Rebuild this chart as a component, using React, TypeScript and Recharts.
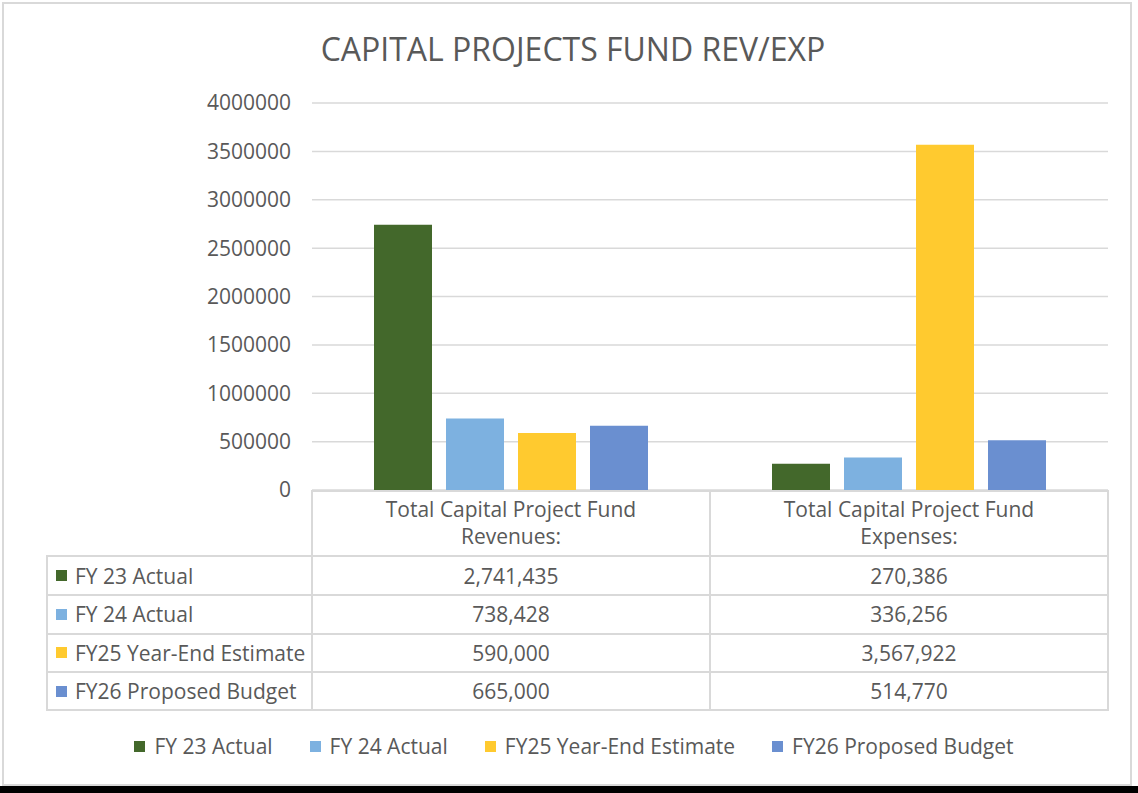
import { BarChart, Bar, XAxis, YAxis, CartesianGrid, Legend } from 'recharts'

const categories = ['Total Capital Project Fund Revenues:', 'Total Capital Project Fund Expenses:']
const seriesNames = ['FY 23 Actual', 'FY 24 Actual', 'FY25 Year-End Estimate', 'FY26 Proposed Budget']
const fy23Actual = [2741435, 270386]
const fy24Actual = [738428, 336256]
const fy25Estimate = [590000, 3567922]
const fy26Proposed = [665000, 514770]
const yTicks = [0, 500000, 1000000, 1500000, 2000000, 2500000, 3000000, 3500000, 4000000]

const colors = ['#43682b', '#7db1e0', '#ffca2f', '#6a8fd0']
const keys = ['fy23', 'fy24', 'fy25', 'fy26']
const seriesValues = [fy23Actual, fy24Actual, fy25Estimate, fy26Proposed]

const data = categories.map((name, i) => ({
  name,
  fy23: fy23Actual[i],
  fy24: fy24Actual[i],
  fy25: fy25Estimate[i],
  fy26: fy26Proposed[i],
}))

const TEXT = '#595959'
const LINE = '#d9d9d9'
const FONT = '"Open Sans", sans-serif'

// table geometry (Excel-style data table under the plot)
const tableLeft = 47
const colEdges = [312, 710, 1108]
const headerTop = 491
const rowEdges = [556, 595, 633.5, 672, 710]

function HeaderTick({ x, y, payload }: any) {
  const label: string = payload.value
  const cut = label.lastIndexOf(' ')
  return (
    <text x={x} y={y} textAnchor="middle" fill={TEXT} fontSize={21} fontFamily={FONT}>
      <tspan x={x} dy={27}>{label.slice(0, cut)}</tspan>
      <tspan x={x} dy={27}>{label.slice(cut + 1)}</tspan>
    </text>
  )
}

function LegendContent() {
  return (
    <div style={{ display: 'flex', justifyContent: 'center', gap: 37, paddingLeft: 10, fontFamily: FONT, fontSize: 21, color: TEXT }}>
      {seriesNames.map((n, i) => (
        <div key={n} style={{ display: 'flex', alignItems: 'center' }}>
          <span style={{ width: 11, height: 11, background: colors[i], marginRight: 9, display: 'inline-block' }} />
          <span>{n}</span>
        </div>
      ))}
    </div>
  )
}

function hLine(x1: number, x2: number, y: number, key: string) {
  return <div key={key} style={{ position: 'absolute', left: x1 - 1, top: y - 1, width: x2 - x1 + 2, height: 2, background: LINE }} />
}
function vLine(x: number, y1: number, y2: number, key: string) {
  return <div key={key} style={{ position: 'absolute', left: x - 1, top: y1 - 1, width: 2, height: y2 - y1 + 2, background: LINE }} />
}

function fmt(v: number) {
  return v.toLocaleString('en-US')
}

function DataTable() {
  const lines = [
    hLine(colEdges[0], colEdges[2], headerTop, 'h-top'),
    ...rowEdges.map((y, i) => hLine(tableLeft, colEdges[2], y, 'h' + i)),
    vLine(tableLeft, rowEdges[0], rowEdges[rowEdges.length - 1], 'v-left'),
    ...colEdges.map((x, i) => vLine(x, headerTop, rowEdges[rowEdges.length - 1], 'v' + i)),
  ]
  const cells = seriesNames.map((n, r) => {
    const top = rowEdges[r]
    const h = rowEdges[r + 1] - rowEdges[r]
    return (
      <div key={n}>
        <div style={{ position: 'absolute', left: tableLeft + 9, top, height: h, display: 'flex', alignItems: 'center' }}>
          <span style={{ width: 11, height: 11, background: colors[r], marginRight: 8, display: 'inline-block' }} />
          <span>{n}</span>
        </div>
        {seriesValues[r].map((v, c) => (
          <div key={c} style={{ position: 'absolute', left: colEdges[c], width: colEdges[c + 1] - colEdges[c], top, height: h, display: 'flex', alignItems: 'center', justifyContent: 'center' }}>
            {fmt(v)}
          </div>
        ))}
      </div>
    )
  })
  return (
    <div style={{ position: 'absolute', left: 0, top: 0, width: 1138, height: 793, pointerEvents: 'none', fontFamily: FONT, fontSize: 21, color: TEXT }}>
      {lines}
      {cells}
    </div>
  )
}

export default function App() {
  return (
    <div style={{ position: 'absolute', left: 0, top: 0, width: 1138, height: 793, background: '#fff', overflow: 'hidden' }}>
      <div style={{ position: 'absolute', left: 2, top: 2, width: 1126, height: 780, border: `2px solid ${LINE}` }} />
      <div style={{ position: 'absolute', left: 0, top: 786, width: 1138, height: 7, background: '#000' }} />
      <div style={{ position: 'absolute', left: 4, top: 27, width: 1138, textAlign: 'center', fontFamily: FONT, fontSize: 32, color: TEXT }}>
        CAPITAL PROJECTS FUND REV/EXP
      </div>
      <div style={{ position: 'absolute', left: 0, top: 0 }}>
        <BarChart
          width={1138}
          height={793}
          data={data}
          margin={{ top: 103, right: 30, bottom: 237, left: 212 }}
          barCategoryGap={62}
          barGap={14}
        >
          <CartesianGrid vertical={false} stroke={LINE} strokeWidth={1.5} />
          <XAxis
            dataKey="name"
            height={66}
            tickLine={false}
            axisLine={false}
            tickSize={0}
            tickMargin={0}
            tick={<HeaderTick />}
            interval={0}
          />
          <YAxis
            width={100}
            domain={[0, 4000000]}
            ticks={yTicks}
            tickLine={false}
            axisLine={false}
            tickSize={0}
            tickMargin={21}
            tick={{ fill: TEXT, fontSize: 21, fontFamily: FONT }}
          />
          {keys.map((k, i) => (
            <Bar key={k} dataKey={k} name={seriesNames[i]} fill={colors[i]} isAnimationActive={false} />
          ))}
          <Legend
            layout="horizontal"
            verticalAlign="middle"
            align="center"
            content={<LegendContent />}
            wrapperStyle={{ top: 732, left: 0, width: 1138 }}
          />
        </BarChart>
      </div>
      <DataTable />
    </div>
  )
}
